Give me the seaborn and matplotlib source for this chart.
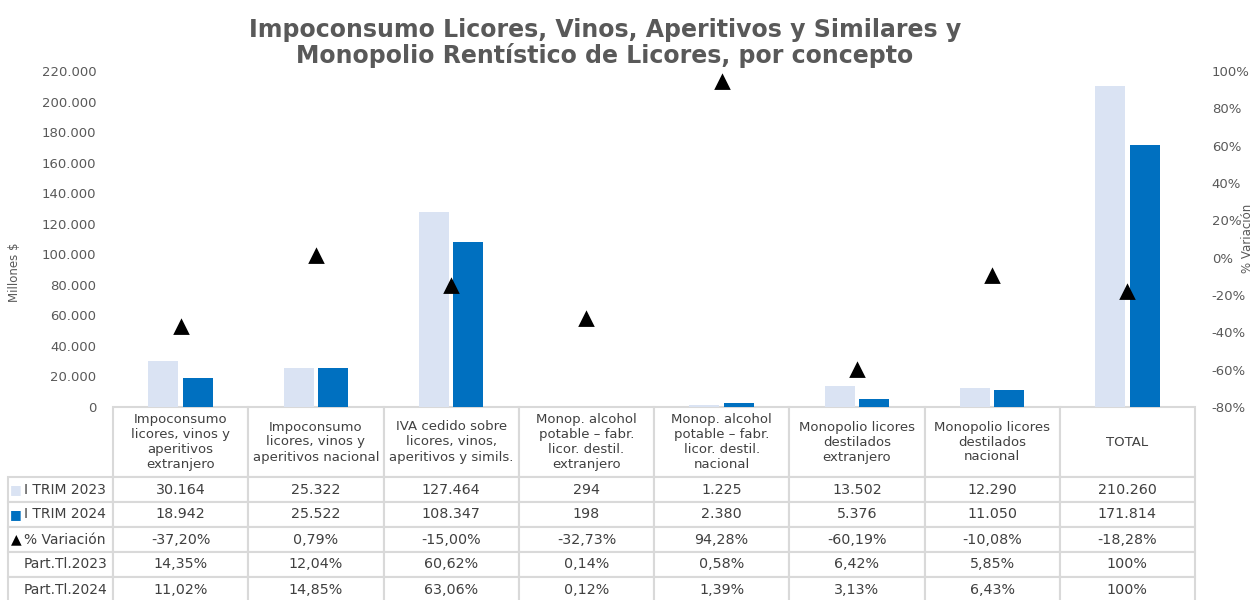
import seaborn as sns
import pandas as pd
import matplotlib.pyplot as plt
from matplotlib.table import Table
from matplotlib.ticker import FuncFormatter, MultipleLocator

# datos del cuadro
conceptos = [
    'Impoconsumo\nlicores, vinos y\naperitivos\nextranjero',
    'Impoconsumo\nlicores, vinos y\naperitivos nacional',
    'IVA cedido sobre\nlicores, vinos,\naperitivos y simils.',
    'Monop. alcohol\npotable – fabr.\nlicor. destil.\nextranjero',
    'Monop. alcohol\npotable – fabr.\nlicor. destil.\nnacional',
    'Monopolio licores\ndestilados\nextranjero',
    'Monopolio licores\ndestilados\nnacional',
    'TOTAL',
]
trim_2023 = [30164, 25322, 127464, 294, 1225, 13502, 12290, 210260]
trim_2024 = [18942, 25522, 108347, 198, 2380, 5376, 11050, 171814]
variacion = [-37.20, 0.79, -15.00, -32.73, 94.28, -60.19, -10.08, -18.28]
part_2023 = [14.35, 12.04, 60.62, 0.14, 0.58, 6.42, 5.85, 100]
part_2024 = [11.02, 14.85, 63.06, 0.12, 1.39, 3.13, 6.43, 100]
series = ['I TRIM 2023', 'I TRIM 2024']
filas = ['I TRIM 2023', 'I TRIM 2024', '% Variación', 'Part.Tl.2023', 'Part.Tl.2024']

c_claro = '#DAE3F3'
c_oscuro = '#0070C0'
gris = '#595959'
texto = '#404040'
borde = '#D9D9D9'

df = pd.DataFrame({
    'concepto': conceptos * 2,
    'periodo': [series[0]] * 8 + [series[1]] * 8,
    'valor': trim_2023 + trim_2024,
})
df_var = pd.DataFrame({'concepto': conceptos, 'var': [v / 100 for v in variacion]})

plt.rcParams['font.family'] = ['DejaVu Sans']

fig = plt.figure(figsize=(12.55, 6), dpi=100)
W, H = 1255, 600
ax = fig.add_axes([113 / W, 1 - 407 / H, (1195 - 113) / W, (407 - 71) / H])

sns.barplot(data=df, x='concepto', y='valor', hue='periodo',
            palette=[c_claro, c_oscuro], saturation=1, width=0.51, gap=0.13,
            legend=False, ax=ax)
ax.set_ylim(0, 220000)
ax.yaxis.set_major_locator(MultipleLocator(20000))
ax.yaxis.set_major_formatter(FuncFormatter(lambda v, p: f'{int(v):,}'.replace(',', '.')))
ax.set_xlabel('')
ax.set_ylabel('Millones $', color=gris, fontsize=8.5)
ax.yaxis.set_label_coords((21 - 113) / 1082, (407 - 272) / 336)
ax.set_xticks([])
ax.tick_params(axis='y', length=0, pad=12, labelsize=9.5, labelcolor=gris)
for s in ax.spines.values():
    s.set_visible(False)

ax2 = ax.twinx()
sns.pointplot(data=df_var, x='concepto', y='var', color='black',
              markers='^', linestyle='none', markersize=8, ax=ax2)
ax2.set_ylim(-0.8, 1.0)
ax2.yaxis.set_major_locator(MultipleLocator(0.2))
ax2.yaxis.set_major_formatter(FuncFormatter(lambda v, p: f'{round(v * 100):d}%'))
ax2.set_xlabel('')
ax2.set_ylabel('% Variación', color=gris, fontsize=8.5)
ax2.yaxis.set_label_coords((1241 - 113) / 1082, (407 - 238) / 336)
ax2.tick_params(axis='y', length=0, pad=12, labelsize=9.5, labelcolor=gris)
for s in ax2.spines.values():
    s.set_visible(False)
ax.set_xlim(-0.5, 7.5)
ax2.set_xlim(-0.5, 7.5)
ax2.set_xticks([])


def miles(v):
    return f'{v:,}'.replace(',', '.')


def pct(v):
    if v == 100:
        return '100%'
    return f'{v:.2f}%'.replace('.', ',')


cuerpo = [
    [miles(v) for v in trim_2023],
    [miles(v) for v in trim_2024],
    [pct(v) for v in variacion],
    [pct(v) for v in part_2023],
    [pct(v) for v in part_2024],
]

# tabla debajo del gráfico
tabla = Table(ax, bbox=[-105 / 1082, -195 / 336, 1187 / 1082, 195 / 336])
ancho_col, ancho_lbl, alto_enc, alto_fila = 135.25, 105, 70, 25
for j, nombre in enumerate(conceptos):
    c = tabla.add_cell(0, j + 1, ancho_col, alto_enc, text=nombre, loc='center')
    c.get_text().set_fontsize(9.5)
    c.get_text().set_color(texto)
for i, fila in enumerate(filas):
    c = tabla.add_cell(i + 1, 0, ancho_lbl, alto_fila, text=fila, loc='left')
    c.PAD = 0.15
    c.get_text().set_fontsize(10)
    c.get_text().set_color(texto)
    for j, val in enumerate(cuerpo[i]):
        c = tabla.add_cell(i + 1, j + 1, ancho_col, alto_fila, text=val, loc='center')
        c.get_text().set_fontsize(10.3)
        c.get_text().set_color(texto)
# celda vacía de la esquina sin bordes
esq = tabla.add_cell(0, 0, ancho_lbl, alto_enc, text='')
esq.visible_edges = ''
for cell in tabla.get_celld().values():
    cell.set_edgecolor(borde)
    cell.set_linewidth(1.5)
tabla.auto_set_font_size(False)
ax.add_table(tabla)

# marcadores de la leyenda en la tabla
for k, (sim, col, fs) in enumerate([('■', c_claro, 9), ('■', c_oscuro, 9), ('▲', 'black', 10)]):
    yc = 407 + 70 + 25 * k + 12.5
    fig.text(16 / W, 1 - yc / H, sim, color=col, fontsize=fs, ha='center', va='center')

fig.text(605 / W, 1 - 43 / H,
         'Impoconsumo Licores, Vinos, Aperitivos y Similares y\nMonopolio Rentístico de Licores, por concepto',
         ha='center', va='center', fontsize=17, fontweight='bold', color=gris, linespacing=1.0)

plt.savefig('out.png', dpi=100)
